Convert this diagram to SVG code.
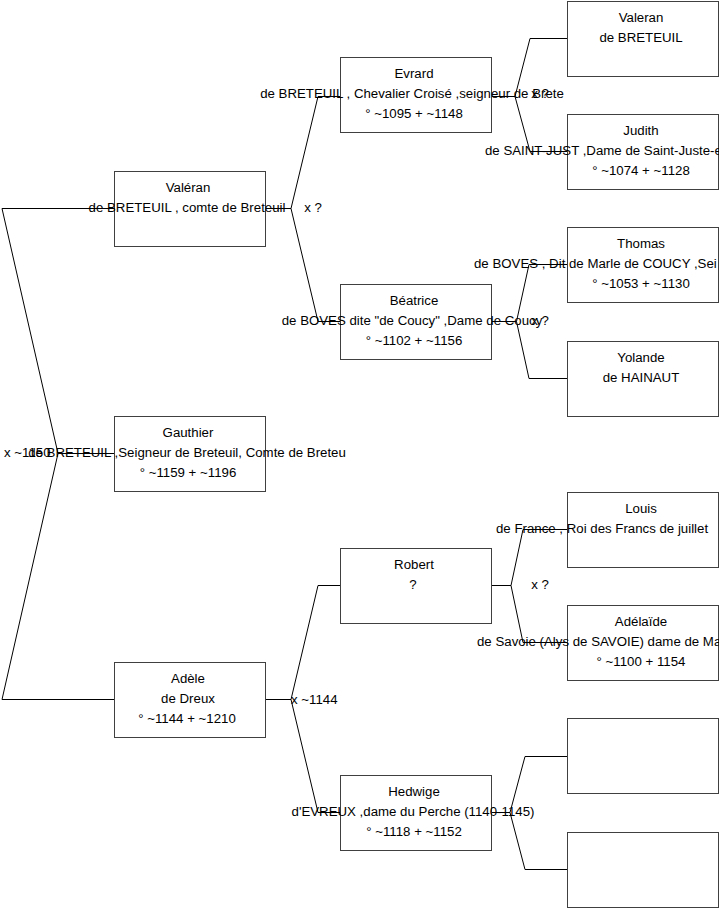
<svg xmlns="http://www.w3.org/2000/svg" width="719" height="908" viewBox="0 0 719 908">
<style>
.box{fill:#fff;stroke:#404040;stroke-width:1}
.c{fill:none;stroke:#000;stroke-width:1}
text{font-family:"Liberation Sans",Arial,sans-serif;font-size:13.25px;fill:#000}
.m{text-anchor:middle}
</style>
<rect width="719" height="908" fill="#fff"/>
<g id="connectors">
<path class="c" d="M114,453.5 H58 M58,453.5 L2,208.5 H114 M58,453.5 L2,699.5 H114"/>
<path class="c" d="M265,208.5 H291 L318,96.5 H341 M291,208.5 L318,321.5 H341"/>
<path class="c" d="M265,699.5 H291 L318,585.5 H341 M291,699.5 L318,812.5 H341"/>
<path class="c" d="M491,96.5 H515 L530,38.5 H567 M515,96.5 L530,151.5 H567"/>
<path class="c" d="M491,321.5 H516.5 L529,264.5 H567 M516.5,321.5 L529,378.5 H567"/>
<path class="c" d="M491,585.5 H511 L523,529.5 H567 M511,585.5 L523,642.5 H567"/>
<path class="c" d="M491,812.5 H510 L525,756.5 H567 M510,812.5 L525,869.5 H567"/>
</g>
<g id="labels">
<text x="4" y="456.5">x ~1150</text>
<text class="m" x="313" y="212">x ?</text>
<text x="291" y="703.5">x ~1144</text>
<text class="m" x="540" y="98">x ?</text>
<text class="m" x="540" y="325">x ?</text>
<text class="m" x="540" y="589">x ?</text>
</g>
<g id="valeran1">
<rect class="box" x="114.5" y="171.5" width="151" height="75"/>
<text class="m" x="188" y="192">Valéran</text>
<text class="m" x="187" y="212">de BRETEUIL , comte de Breteuil</text>
</g>
<g id="gauthier">
<rect class="box" x="114.5" y="416.5" width="151" height="75"/>
<text class="m" x="188" y="437">Gauthier</text>
<text class="m" x="187" y="457">de BRETEUIL ,Seigneur de Breteuil, Comte de Breteu</text>
<text class="m" x="188" y="477">° ~1159 + ~1196</text>
</g>
<g id="adele">
<rect class="box" x="114.5" y="662.5" width="151" height="75"/>
<text class="m" x="188" y="683">Adèle</text>
<text class="m" x="188" y="703">de Dreux</text>
<text class="m" x="187" y="723">° ~1144 + ~1210</text>
</g>
<g id="evrard">
<rect class="box" x="340.5" y="57.5" width="151" height="75"/>
<text class="m" x="414" y="78">Evrard</text>
<text class="m" x="412" y="98">de BRETEUIL , Chevalier Croisé ,seigneur de Brete</text>
<text class="m" x="414" y="118">° ~1095 + ~1148</text>
</g>
<g id="beatrice">
<rect class="box" x="340.5" y="284.5" width="151" height="75"/>
<text class="m" x="414" y="305">Béatrice</text>
<text class="m" x="412" y="325">de BOVES dite "de Coucy" ,Dame de Coucy</text>
<text class="m" x="414" y="345">° ~1102 + ~1156</text>
</g>
<g id="robert">
<rect class="box" x="340.5" y="548.5" width="151" height="75"/>
<text class="m" x="414" y="569">Robert</text>
<text class="m" x="413" y="589">?</text>
</g>
<g id="hedwige">
<rect class="box" x="340.5" y="775.5" width="151" height="75"/>
<text class="m" x="414" y="796">Hedwige</text>
<text class="m" x="413" y="816">d'EVREUX ,dame du Perche (1140-1145)</text>
<text class="m" x="414" y="836">° ~1118 + ~1152</text>
</g>
<g id="valeran2">
<rect class="box" x="567.5" y="1.5" width="151" height="75"/>
<text class="m" x="641" y="22">Valeran</text>
<text class="m" x="641" y="42">de BRETEUIL</text>
</g>
<g id="judith">
<rect class="box" x="567.5" y="114.5" width="151" height="75"/>
<text class="m" x="641" y="135">Judith</text>
<text x="485" y="155">de SAINT-JUST ,Dame de Saint-Juste-e</text>
<text class="m" x="641" y="175">° ~1074 + ~1128</text>
</g>
<g id="thomas">
<rect class="box" x="567.5" y="227.5" width="151" height="75"/>
<text class="m" x="641" y="248">Thomas</text>
<text x="474" y="268">de BOVES , Dit de Marle de COUCY ,Sei</text>
<text class="m" x="641" y="288">° ~1053 + ~1130</text>
</g>
<g id="yolande">
<rect class="box" x="567.5" y="341.5" width="151" height="75"/>
<text class="m" x="641" y="362">Yolande</text>
<text class="m" x="641" y="382">de HAINAUT</text>
</g>
<g id="louis">
<rect class="box" x="567.5" y="492.5" width="151" height="75"/>
<text class="m" x="641" y="513">Louis</text>
<text x="496" y="533">de France , Roi des Francs de juillet</text>
</g>
<g id="adelaide">
<rect class="box" x="567.5" y="605.5" width="151" height="75"/>
<text class="m" x="641" y="626">Adélaïde</text>
<text x="477" y="646">de Savoie (Alys de SAVOIE) dame de Ma</text>
<text class="m" x="641" y="666">° ~1100 + 1154</text>
</g>
<g id="empty1">
<rect class="box" x="567.5" y="718.5" width="151" height="75"/>
</g>
<g id="empty2">
<rect class="box" x="567.5" y="832.5" width="151" height="75"/>
</g>
</svg>
